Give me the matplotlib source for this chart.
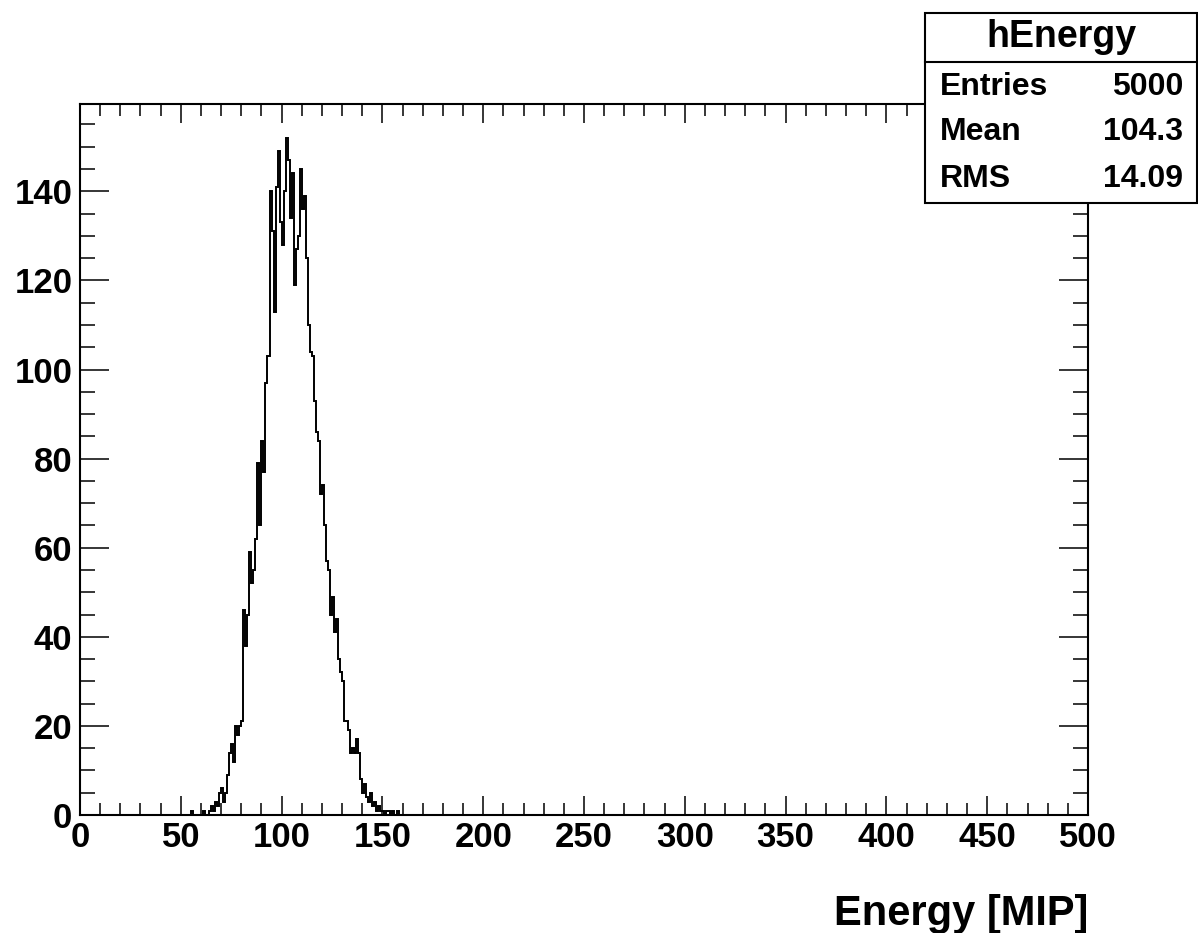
import matplotlib

matplotlib.use("Agg")
import matplotlib.pyplot as plt
import numpy as np
from matplotlib.patches import Rectangle
from matplotlib.ticker import MultipleLocator


# histogram contents, one count per 1-MIP bin starting at FIRST_BIN
FIRST_BIN = 55
bin_counts = [
    1, 0, 0, 0, 0, 0, 1, 0, 0, 1,           # 55-64
    2, 1, 3, 2, 5, 6, 3, 5, 9, 14,          # 65-74
    16, 12, 20, 18, 20, 21, 46, 38, 45, 59,  # 75-84
    52, 55, 62, 79, 65, 84, 77, 97, 103, 140,  # 85-94
    131, 113, 141, 149, 133, 128, 140, 152, 147, 134,  # 95-104
    144, 119, 127, 130, 145, 136, 139, 125, 110, 104,  # 105-114
    103, 93, 86, 84, 72, 74, 65, 57, 55, 45,  # 115-124
    49, 41, 44, 35, 32, 30, 21, 21, 19, 14,  # 125-134
    15, 14, 17, 14, 8, 5, 7, 4, 3, 5,        # 135-144
    2, 3, 1, 2, 1, 1, 0, 1, 1, 0,            # 145-154
    1, 0, 1,                                 # 155-157
]
N_BINS = 500
X_MIN, X_MAX = 0, 500
Y_MAX = 159.6

hist_name = "hEnergy"
stat_labels = ["Entries", "Mean", "RMS"]
stat_values = ["5000", "104.3", "14.09"]
x_title = "Energy [MIP]"

FONT = ["Liberation Sans", "DejaVu Sans"]
W, H = 1198, 933


def main():
    plt.rcParams["font.family"] = FONT
    plt.rcParams["font.weight"] = "bold"

    counts = np.zeros(N_BINS)
    counts[FIRST_BIN:FIRST_BIN + len(bin_counts)] = bin_counts
    edges = np.linspace(X_MIN, X_MAX, N_BINS + 1)

    fig = plt.figure(figsize=(W / 100, H / 100), dpi=100)
    ax = fig.add_axes([80 / W, (H - 815) / H, (1088 - 80) / W, (815 - 104) / H])
    ax.stairs(counts, edges, color="black", linewidth=1.4)
    ax.set_xlim(X_MIN, X_MAX)
    ax.set_ylim(0, Y_MAX)

    ax.xaxis.set_major_locator(MultipleLocator(50))
    ax.xaxis.set_minor_locator(MultipleLocator(10))
    ax.yaxis.set_major_locator(MultipleLocator(20))
    ax.yaxis.set_minor_locator(MultipleLocator(5))
    ax.tick_params(which="both", direction="in", top=True, right=True, width=1.1,
                   labelsize=25, colors="black")
    ax.xaxis.set_tick_params(which="major", length=14, pad=4)
    ax.xaxis.set_tick_params(which="minor", length=8.5)
    ax.yaxis.set_tick_params(which="major", length=21, pad=5.5)
    ax.yaxis.set_tick_params(which="minor", length=10.5)
    for lab in ax.get_xticklabels() + ax.get_yticklabels():
        lab.set_fontweight("bold")
    for sp in ax.spines.values():
        sp.set_linewidth(1.5)

    fig.text(1088 / W, (H - 925) / H, x_title, ha="right", va="baseline",
             fontsize=30, fontweight="bold")

    # statistics box
    box = fig.add_axes([925 / W, (H - 203) / H, (1197 - 925) / W, (203 - 13) / H])
    box.set_xlim(0, 1)
    box.set_ylim(0, 1)
    box.axis("off")
    box.add_patch(Rectangle((0, 0), 1, 1, facecolor="white", edgecolor="black",
                            linewidth=1.5, transform=box.transAxes, clip_on=False))
    box.plot([0, 1], [0.742, 0.742], color="black", linewidth=1.5, clip_on=False)
    box.text(0.5, 0.821, hist_name, ha="center", va="baseline", fontsize=27,
             fontweight="bold")
    for row, (lab, val) in enumerate(zip(stat_labels, stat_values)):
        yb = [0.568, 0.332, 0.084][row]
        box.text(0.055, yb, lab, ha="left", va="baseline", fontsize=23, fontweight="bold")
        box.text(0.949, yb, val, ha="right", va="baseline", fontsize=23, fontweight="bold")

    fig.savefig("out.png", dpi=100)
    plt.close(fig)


if __name__ == "__main__":
    main()
